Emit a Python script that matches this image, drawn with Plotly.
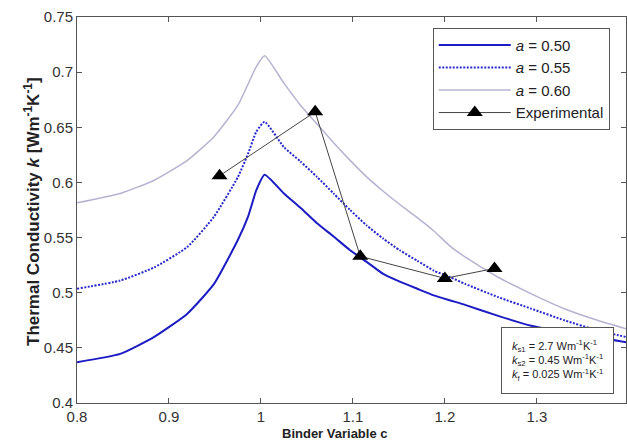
import plotly.graph_objects as go

# Binder variable c sample points for each model curve
c_050 = [0.800, 0.847, 0.884, 0.920, 0.949, 0.975, 0.986, 0.995, 1.004,
         1.025, 1.043, 1.061, 1.079, 1.097, 1.115, 1.133, 1.151, 1.170, 1.188,
         1.206, 1.222, 1.258, 1.294, 1.330, 1.366, 1.398]
k_050 = [0.437, 0.4445, 0.460, 0.481, 0.508, 0.548, 0.569, 0.593, 0.607,
         0.590, 0.577, 0.563, 0.551, 0.5385, 0.528, 0.517, 0.510, 0.5036, 0.4976,
         0.493, 0.489, 0.479, 0.470, 0.4642, 0.4597, 0.455]

c_055 = [0.800, 0.847, 0.884, 0.920, 0.949, 0.975, 0.986, 0.995, 1.004,
         1.025, 1.043, 1.061, 1.079, 1.097, 1.115, 1.133, 1.151, 1.170, 1.188,
         1.206, 1.222, 1.258, 1.294, 1.330, 1.366, 1.398]
k_055 = [0.5036, 0.511, 0.523, 0.5415, 0.569, 0.605, 0.626, 0.646, 0.655,
         0.632, 0.619, 0.605, 0.590, 0.575, 0.561, 0.549, 0.5385, 0.529, 0.520,
         0.514, 0.508, 0.496, 0.4855, 0.475, 0.4658, 0.4597]

c_060 = [0.800, 0.847, 0.884, 0.920, 0.949, 0.975, 0.995, 1.004,
         1.025, 1.043, 1.061, 1.079, 1.097, 1.115, 1.133, 1.151, 1.170, 1.188,
         1.206, 1.222, 1.258, 1.294, 1.330, 1.366, 1.398]
k_060 = [0.5815, 0.590, 0.602, 0.620, 0.6415, 0.670, 0.705, 0.7148,
         0.690, 0.670, 0.653, 0.636, 0.620, 0.605, 0.592, 0.580, 0.568, 0.556,
         0.542, 0.5324, 0.514, 0.499, 0.4855, 0.475, 0.467]

# Measured values
c_exp = [0.955, 1.059, 1.108, 1.200, 1.254]
k_exp = [0.606, 0.664, 0.533, 0.513, 0.522]

x_ticks = [0.8, 0.9, 1.0, 1.1, 1.2, 1.3]
x_ticklabels = ["0.8", "0.9", "1", "1.1", "1.2", "1.3"]
y_ticks = [0.4, 0.45, 0.5, 0.55, 0.6, 0.65, 0.7, 0.75]
y_ticklabels = ["0.4", "0.45", "0.5", "0.55", "0.6", "0.65", "0.7", "0.75"]

FONT = "Liberation Sans, Arial, sans-serif"
SMOOTH = dict(shape="spline", smoothing=0.5)

fig = go.Figure()
fig.add_trace(go.Scatter(x=c_050, y=k_050, mode="lines", name="<i>a</i> = 0.50",
                         line=dict(color="#1c1cc4", width=2, **SMOOTH)))
fig.add_trace(go.Scatter(x=c_055, y=k_055, mode="lines", name="<i>a</i> = 0.55",
                         line=dict(color="#2828cc", width=2, dash="2px,1.5px", **SMOOTH)))
fig.add_trace(go.Scatter(x=c_060, y=k_060, mode="lines", name="<i>a</i> = 0.60",
                         line=dict(color="#b4b4d2", width=1.5, **SMOOTH)))
fig.add_trace(go.Scatter(x=c_exp, y=k_exp, mode="lines+markers", name="Experimental",
                         line=dict(color="#444444", width=1),
                         marker=dict(symbol="triangle-up", size=14, color="black")))

axis_common = dict(showline=True, linecolor="#555555", linewidth=1, mirror="ticks",
                   ticks="inside", ticklen=5, tickcolor="#555555", showgrid=False,
                   zeroline=False, tickfont=dict(family=FONT, size=15, color="#333333"))

fig.update_xaxes(range=[0.8, 1.397], tickvals=x_ticks, ticktext=x_ticklabels, **axis_common)
fig.update_yaxes(range=[0.4, 0.75], tickvals=y_ticks, ticktext=y_ticklabels, **axis_common)

# Axis titles
fig.add_annotation(
    x=335, y=443, xref="paper", yref="paper", showarrow=False,
    text="<b>Binder Variable c</b>",
    font=dict(family=FONT, size=13, color="#222222"),
)
fig.add_annotation(
    x=19, y=212, xref="paper", yref="paper", showarrow=False, textangle=-90,
    text="<b>Thermal Conductivity <i>k</i> [Wm<sup>-1</sup>K<sup>-1</sup>]</b>",
    font=dict(family=FONT, size=17, color="#222222"),
)

# Material parameters box
fig.add_annotation(
    x=557, y=360, xref="paper", yref="paper", xanchor="center", yanchor="middle",
    showarrow=False, align="left",
    text=("<i>k</i><sub>s1</sub> = 2.7 Wm<sup>-1</sup>K<sup>-1</sup><br>"
          "<i>k</i><sub>s2</sub> = 0.45 Wm<sup>-1</sup>K<sup>-1</sup><br>"
          "<i>k</i><sub>f</sub> = 0.025 Wm<sup>-1</sup>K<sup>-1</sup>"),
    font=dict(family=FONT, size=11, color="#222222"),
    bordercolor="#555555", borderwidth=1, borderpad=10, bgcolor="white",
)

L, R, T, B = 77, 1, 17, 43
W, H = 627, 446
# convert the pixel-placed annotations into paper fractions
for ann in fig.layout.annotations:
    ann.x = (ann.x - L) / (W - L - R)
    ann.y = (H - B - ann.y) / (H - T - B)

fig.update_layout(
    width=W, height=H,
    margin=dict(l=L, r=R, t=T, b=B),
    plot_bgcolor="white", paper_bgcolor="white",
    font=dict(family=FONT, color="#222222"),
    legend=dict(x=0.648, y=0.972, xanchor="left", yanchor="top",
                bordercolor="#555555", borderwidth=1, bgcolor="white",
                font=dict(family=FONT, size=15, color="#222222"),
                itemwidth=72, tracegroupgap=0),
)

fig.write_html("out.html")
